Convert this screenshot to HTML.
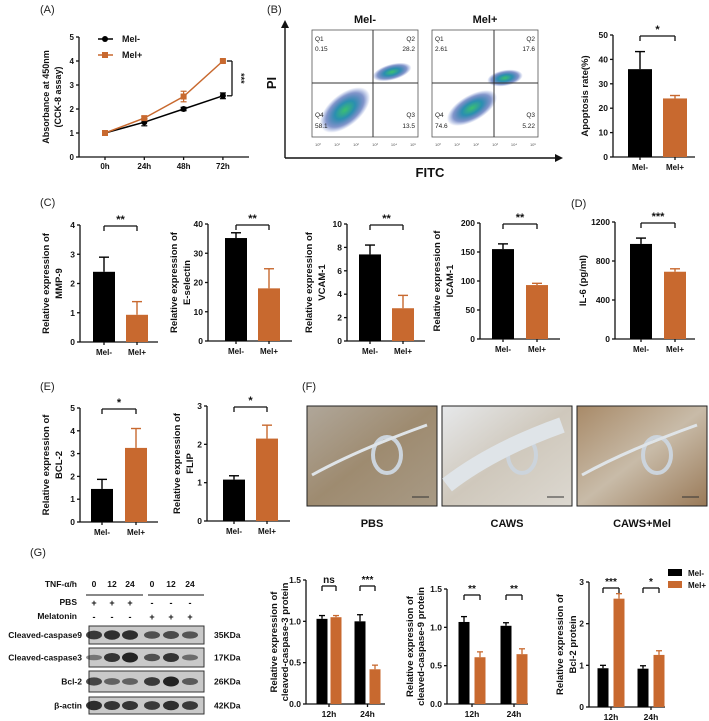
<!DOCTYPE html>
<html><head><meta charset="utf-8">
<style>
html,body{margin:0;padding:0;background:#fff;}
svg{display:block;font-family:"Liberation Sans",Arial,sans-serif;}
.t{font-weight:bold;fill:#111;}
</style></head>
<body>
<svg id="fig" width="709" height="721" viewBox="0 0 709 721">
<defs>
<radialGradient id="cloud" cx="50%" cy="50%" r="50%">
<stop offset="0%" stop-color="#3cc070"/><stop offset="40%" stop-color="#2a8fb0"/><stop offset="75%" stop-color="#3050a8" stop-opacity="0.6"/><stop offset="100%" stop-color="#4060c0" stop-opacity="0"/>
</radialGradient>
<linearGradient id="tissueA" x1="0" y1="0" x2="1" y2="1"><stop offset="0" stop-color="#b0a79a"/><stop offset="0.5" stop-color="#9e8b70"/><stop offset="1" stop-color="#a89a85"/></linearGradient>
<linearGradient id="tissueB" x1="0" y1="0" x2="1" y2="1"><stop offset="0" stop-color="#e6e8ea"/><stop offset="0.5" stop-color="#cfc8bc"/><stop offset="1" stop-color="#dcd8d0"/></linearGradient>
<linearGradient id="tissueC" x1="0" y1="0" x2="1" y2="1"><stop offset="0" stop-color="#a88a68"/><stop offset="0.5" stop-color="#c8bba8"/><stop offset="1" stop-color="#9a7a58"/></linearGradient>
</defs>
<g id="root"></g>
</svg>
<script>
// ---------- data ----------
const cckTimes = ["0h","24h","48h","72h"];
const cckMelMinus = [1.0,1.45,2.0,2.55];
const cckMelMinusErr = [0.05,0.15,0.07,0.12];
const cckMelPlus = [1.0,1.62,2.52,4.0];
const cckMelPlusErr = [0.05,0.08,0.22,0.05];
const cckTicks = [0,1,2,3,4,5];

const groups = ["Mel-","Mel+"];
const apoptosis = [36,24]; const apoptosisErr = [7.2,1.2]; const apoptosisTicks=[0,10,20,30,40,50];
const mmp9 = [2.4,0.93]; const mmp9Err=[0.5,0.45]; const mmp9Ticks=[0,1,2,3,4];
const eselectin = [35.2,18]; const eselectinErr=[1.8,6.7]; const eselectinTicks=[0,10,20,30,40];
const vcam = [7.4,2.8]; const vcamErr=[0.8,1.1]; const vcamTicks=[0,2,4,6,8,10];
const icam = [155,93]; const icamErr=[9,3]; const icamTicks=[0,50,100,150,200];
const il6 = [975,690]; const il6Err=[60,30]; const il6Ticks=[0,400,800,1200];
const bcl2 = [1.45,3.25]; const bcl2Err=[0.42,0.85]; const bcl2Ticks=[0,1,2,3,4,5];
const flip = [1.08,2.15]; const flipErr=[0.1,0.35]; const flipTicks=[0,1,2,3];

const gTimes = ["12h","24h"];
const casp3Minus=[1.03,1.0], casp3MinusErr=[0.04,0.08], casp3Plus=[1.05,0.42], casp3PlusErr=[0.02,0.05];
const casp9Minus=[1.07,1.02], casp9MinusErr=[0.07,0.04], casp9Plus=[0.61,0.65], casp9PlusErr=[0.07,0.07];
const bclpMinus=[0.93,0.92], bclpMinusErr=[0.07,0.07], bclpPlus=[2.6,1.25], bclpPlusErr=[0.12,0.1];
const gTicks15=["0.0","0.5","1.0","1.5"], gTicks3=[0,1,2,3];

const ORANGE="#c8692f";
const NS="http://www.w3.org/2000/svg";
const root=document.getElementById('root');
function mk(tag,attrs,parent,txt){const e=document.createElementNS(NS,tag);for(const k in attrs)e.setAttribute(k,attrs[k]);if(txt!==undefined)e.textContent=txt;(parent||root).appendChild(e);return e;}
function grp(name){const g=mk('g',{});return g;}
function line(g,x1,y1,x2,y2,w,c){return mk('line',{x1,y1,x2,y2,stroke:c||'#111','stroke-width':w||1.3},g);}
function text(g,x,y,s,size,anchor,extra){return mk('text',Object.assign({x,y,'font-size':size,'text-anchor':anchor||'middle',class:'t'},extra||{}),g,s);}
function label(x,y,s){const g=grp('panel-label-'+s.replace(/[()]/g,'').toLowerCase());mk('text',{x,y,'font-size':11,fill:'#222'},g,s);}

function yAxis(g,ax,y0,yTop,max,ticks,size){
  const sy=v=>y0-(v/max)*(y0-yTop);
  line(g,ax,yTop,ax,y0);
  ticks.forEach(t=>{const v=parseFloat(t);line(g,ax-3,sy(v),ax,sy(v));const tl=text(g,ax-5,sy(v)+3,String(t),size||8,'end');});
  return sy;
}
function ytitle(g,xs,yc,lines,size){
  lines.forEach((s,i)=>{const x=xs[i];const t=text(g,x,yc,s,size,'middle',{transform:`rotate(-90 ${x} ${yc})`});});
}
function bracket(g,x1,x2,y,stars,size){
  line(g,x1,y+5,x1,y);line(g,x1,y,x2,y);line(g,x2,y,x2,y+5);
  text(g,(x1+x2)/2,y-3,stars,size||10);
}
function twoBar(name,ax,y0,yTop,max,ticks,vals,errs,cx,bw,titleXs,titleLines,sig,xEnd){
  const g=grp(name);
  const sy=yAxis(g,ax,y0,yTop,max,ticks,8.5);
  line(g,ax,y0,xEnd,y0);
  vals.forEach((v,i)=>{
    const col=i===0?'#000':ORANGE;
    const r=mk('rect',{x:cx[i]-bw/2,y:sy(v),width:bw,height:y0-sy(v),fill:col},g);
    
    
    line(g,cx[i],sy(v),cx[i],sy(v+errs[i]),1.4,col);
    line(g,cx[i]-5,sy(v+errs[i]),cx[i]+5,sy(v+errs[i]),1.4,col);
    line(g,cx[i],y0,cx[i],y0+3);
    const tl=text(g,cx[i],y0+13,groups[i],8);
    
  });
  ytitle(g,titleXs,(y0+yTop)/2,titleLines,9.5);
  bracket(g,cx[0],cx[1],yTop+1,sig,11);
}

// ---------- Panel A ----------
label(40,13,'(A)');
(function(){
  const g=grp('cck8-line-chart');
  const ax=79,y0=157,yTop=37;
  const sy=yAxis(g,ax,y0,yTop,5,cckTicks,8);
  line(g,ax,y0,249,y0);
  const x0=105,dx=39.3;const sx=i=>x0+i*dx;
  cckTimes.forEach((t,i)=>{line(g,sx(i),y0,sx(i),y0+3);const tl=text(g,sx(i),y0+12,t,8);});
  ytitle(g,[49,61],97,['Absorbance at 450nm','(CCK-8 assay)'],9);
  [[cckMelMinus,cckMelMinusErr,'#000','mel-minus-line'],[cckMelPlus,cckMelPlusErr,ORANGE,'mel-plus-line']].forEach(([vals,errs,col,nm])=>{
    const pts=vals.map((v,i)=>sx(i)+','+sy(v)).join(' ');
    const pl=mk('polyline',{points:pts,fill:'none',stroke:col,'stroke-width':1.5},g);
    
    vals.forEach((v,i)=>{
      line(g,sx(i),sy(v-errs[i]),sx(i),sy(v+errs[i]),1.2,col);
      line(g,sx(i)-3,sy(v-errs[i]),sx(i)+3,sy(v-errs[i]),1.2,col);
      line(g,sx(i)-3,sy(v+errs[i]),sx(i)+3,sy(v+errs[i]),1.2,col);
      let m;
      if(col==='#000')m=mk('circle',{cx:sx(i),cy:sy(v),r:3,fill:col},g);
      else m=mk('rect',{x:sx(i)-3,y:sy(v)-3,width:6,height:6,fill:col},g);
      
    });
  });
  const bx=232;const top=sy(cckMelPlus[3]),bot=sy(cckMelMinus[3]);
  line(g,sx(3)+4,top,bx,top);line(g,bx,top,bx,bot);line(g,sx(3)+4,bot,bx,bot);
  text(g,bx+6,(top+bot)/2,'***',9,'middle',{transform:`rotate(90 ${bx+6} ${(top+bot)/2})`});
  const lg=grp('legend');
  line(lg,98,39,113,39,1.5,'#000');mk('circle',{cx:105,cy:39,r:3,fill:'#000'},lg);text(lg,122,42,'Mel-',9,'start');
  line(lg,98,55,113,55,1.5,ORANGE);mk('rect',{x:102,y:52,width:6,height:6,fill:ORANGE},lg);text(lg,122,58,'Mel+',9,'start');
})();

// ---------- Panel B ----------
label(267,13,'(B)');
(function(){
  const g=grp('flow-cytometry');
  line(g,285,158,285,28,1.4);mk('polygon',{points:'281,28 289,28 285,20',fill:'#111'},g);
  line(g,285,158,555,158,1.4);mk('polygon',{points:'555,154 555,162 563,158',fill:'#111'},g);
  text(g,276,83,'PI',13,'middle',{transform:'rotate(-90 276 83)'});
  text(g,430,177,'FITC',13);
  const plots=[{x:312,v:373,t:'Mel-',q:['0.15','28.2','58.1','13.5'],c:[[345,110,30,16,-40],[392,72,20,8,-15]]},
               {x:432,v:494,t:'Mel+',q:['2.61','17.6','74.6','5.22'],c:[[472,108,28,13,-30],[505,78,18,8,-10]]}];
  plots.forEach(p=>{
    const pg=grp('flow-plot-'+p.t.replace('+','plus').replace('-','minus').toLowerCase());
    g.appendChild(pg);
    mk('rect',{x:p.x,y:30,width:106,height:107,fill:'#fff',stroke:'#555','stroke-width':0.8},pg);
    p.c.forEach(c=>mk('ellipse',{cx:c[0],cy:c[1],rx:c[2],ry:c[3],fill:'url(#cloud)',transform:`rotate(${c[4]} ${c[0]} ${c[1]})`},pg));
    line(pg,p.v,30,p.v,137,1,'#333');line(pg,p.x,83,p.x+106,83,1,'#333');
    text(pg,p.x+53,23,p.t,11);
    mk('text',{x:p.x+3,y:41,'font-size':6.5,fill:'#222'},pg,'Q1');mk('text',{x:p.x+3,y:51,'font-size':6.5,fill:'#222'},pg,p.q[0]);
    mk('text',{x:p.x+103,y:41,'font-size':6.5,fill:'#222','text-anchor':'end'},pg,'Q2');mk('text',{x:p.x+103,y:51,'font-size':6.5,fill:'#222','text-anchor':'end'},pg,p.q[1]);
    mk('text',{x:p.x+3,y:117,'font-size':6.5,fill:'#222'},pg,'Q4');mk('text',{x:p.x+3,y:128,'font-size':6.5,fill:'#222'},pg,p.q[2]);
    mk('text',{x:p.x+103,y:117,'font-size':6.5,fill:'#222','text-anchor':'end'},pg,'Q3');mk('text',{x:p.x+103,y:128,'font-size':6.5,fill:'#222','text-anchor':'end'},pg,p.q[3]);
    for(let i=0;i<6;i++){mk('text',{x:p.x+6+i*19,y:146,'font-size':4,fill:'#555','text-anchor':'middle'},pg,'10'+['⁰','¹','²','³','⁴','⁵'][i]);}
  });
})();
twoBar('apoptosis-rate-chart',613,157,35,50,apoptosisTicks,apoptosis,apoptosisErr,[640,675],24,[588],['Apoptosis rate(%)'],'*',695);

// ---------- Panel C / D ----------
label(40,206,'(C)');label(571,207,'(D)');
twoBar('mmp9-chart',80,342,225,4,mmp9Ticks,mmp9,mmp9Err,[104,137],22,[49,62],['Relative expression of','MMP-9'],'**',158);
twoBar('eselectin-chart',208,341,224,40,eselectinTicks,eselectin,eselectinErr,[236,269],22,[177,190],['Relative expression of','E-selectin'],'**',292);
twoBar('vcam1-chart',347,341,224,10,vcamTicks,vcam,vcamErr,[370,403],22,[312,325],['Relative expression of','VCAM-1'],'**',425);
twoBar('icam1-chart',480,339,223,200,icamTicks,icam,icamErr,[503,537],22,[440,453],['Relative expression of','ICAM-1'],'**',560);
twoBar('il6-chart',615,339,222,1200,il6Ticks,il6,il6Err,[641,675],22,[586],['IL-6 (pg/ml)'],'***',695);

// ---------- Panel E ----------
label(40,390,'(E)');label(302,390,'(F)');
twoBar('bcl2-chart',80,522,408,5,bcl2Ticks,bcl2,bcl2Err,[102,136],22,[49,62],['Relative expression of','BCL-2'],'*',158);
twoBar('flip-chart',207,521,406,3,flipTicks,flip,flipErr,[234,267],22,[180,193],['Relative expression of','FLIP'],'*',290);

// ---------- Panel F ----------
(function(){
  const imgs=[[307,'PBS','url(#tissueA)'],[442,'CAWS','url(#tissueB)'],[577,'CAWS+Mel','url(#tissueC)']];
  imgs.forEach(([x,l,f])=>{
    const g=grp('histology-'+l.toLowerCase().replace('+','-'));
    const w=130;
    mk('rect',{x,y:406,width:w,height:100,fill:f,stroke:'#222','stroke-width':1},g);
    mk('ellipse',{cx:x+80,cy:455,rx:14,ry:18,fill:'none',stroke:'#ccd4dc','stroke-width':4},g);
    mk('path',{d:`M${x+5} ${x===442?485:475} Q${x+50} 450 ${x+120} 425`,fill:'none',stroke:'#dfe4e8','stroke-width':x===442?16:3},g);
    line(g,x+105,497,x+122,497,1,'#333');
    text(g,x+w/2,527,l,11);
  });
})();

// ---------- Panel G ----------
label(30,556,'(G)');
(function(){
  const g=grp('western-blot');
  text(g,77,587,'TNF-α/h',8.5,'end');
  const lx=[94,112,130,152,171,190];const tnf=['0','12','24','0','12','24'];
  lx.forEach((x,i)=>{text(g,x,587,tnf[i],8.5);text(g,x,606,i<3?'+':'-',9);text(g,x,620,i<3?'-':'+',9);});
  line(g,86,595,143,595,1);line(g,148,595,204,595,1);
  text(g,77,605,'PBS',8.5,'end');text(g,77,619,'Melatonin',8.5,'end');
  const rows=[['Cleaved-caspase9',626,18,'35KDa',[0.8,0.9,0.9,0.6,0.65,0.55]],['Cleaved-caspase3',648,19,'17KDa',[0.25,0.85,1,0.6,0.85,0.35]],['Bcl-2',671,21,'26KDa',[0.7,0.45,0.45,0.8,1,0.5]],['β-actin',697,17,'42KDa',[0.9,0.85,0.85,0.8,0.9,0.8]]];
  rows.forEach(([n,y,h,k,ints])=>{
    const rg=grp('blot-row-'+n.toLowerCase().replace(/[^a-z0-9]+/g,'-'));g.appendChild(rg);
    mk('rect',{x:89,y,width:115,height:h,fill:'#c9c9c9',stroke:'#333','stroke-width':1},rg);
    ints.forEach((v,i)=>mk('ellipse',{cx:lx[i],cy:y+h/2,rx:8,ry:2+v*3,fill:'#111','fill-opacity':0.3+v*0.6},rg));
    text(rg,82,y+h/2+3,n,8.5,'end');text(rg,214,y+h/2+3,k,8.5,'start');
  });
})();
function groupedChart(name,ax,y0,yTop,max,ticks,minus,minusErr,plus,plusErr,xs,sigs,titleXs,titleLines,xEnd){
  const g=grp(name);
  const sy=yAxis(g,ax,y0,yTop,max,ticks,8.5);
  line(g,ax,y0,xEnd,y0);
  gTimes.forEach((t,i)=>{
    [[minus,minusErr,'#000',xs[i][0]],[plus,plusErr,ORANGE,xs[i][1]]].forEach(([v,e,col,cx])=>{
      const r=mk('rect',{x:cx-5.5,y:sy(v[i]),width:11,height:y0-sy(v[i]),fill:col},g);
      
      
      line(g,cx,sy(v[i]),cx,sy(v[i]+e[i]),1.3,col);line(g,cx-3,sy(v[i]+e[i]),cx+3,sy(v[i]+e[i]),1.3,col);
    });
    const c=(xs[i][0]+xs[i][1])/2;
    line(g,c,y0,c,y0+3);
    const tl=text(g,c,y0+13,t,8.5);
    bracket(g,xs[i][0],xs[i][1],yTop+6,sigs[i],10);
  });
  ytitle(g,titleXs,(y0+yTop)/2,titleLines,9.5);
}
groupedChart('caspase3-chart',306,704,580,1.5,gTicks15,casp3Minus,casp3MinusErr,casp3Plus,casp3PlusErr,[[322,336],[360,375]],['ns','***'],[277,288],['Relative expression of','cleaved-caspase-3 protein'],385);
groupedChart('caspase9-chart',447,704,589,1.5,gTicks15,casp9Minus,casp9MinusErr,casp9Plus,casp9PlusErr,[[464,480],[506,522]],['**','**'],[413,424],['Relative expression of','cleaved-caspase-9 protein'],528);
groupedChart('bcl2-protein-chart',589,707,582,3,gTicks3,bclpMinus,bclpMinusErr,bclpPlus,bclpPlusErr,[[603,619],[643,659]],['***','*'],[563,576],['Relative expression of','Bcl-2 protein'],665);
(function(){
  const lg=grp('legend-g');
  mk('rect',{x:668,y:569,width:14,height:7,fill:'#000'},lg);text(lg,688,576,'Mel-',8,'start');
  mk('rect',{x:668,y:581,width:14,height:7,fill:ORANGE},lg);text(lg,688,588,'Mel+',8,'start');
})();
</script>
</body></html>
